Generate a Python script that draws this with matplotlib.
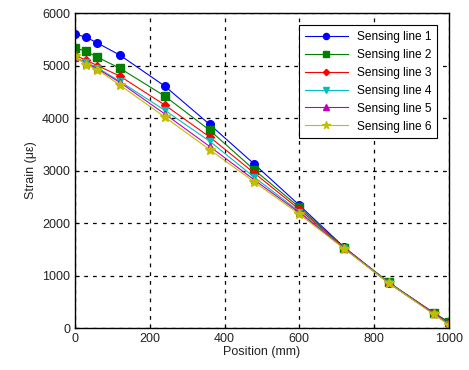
import matplotlib
matplotlib.use("Agg")
import matplotlib.pyplot as plt

plt.rcParams['font.family'] = ['Liberation Sans', 'DejaVu Sans']

position = [0, 30, 60, 120, 240, 360, 480, 600, 720, 840, 960, 1000]

line1 = [5600, 5540, 5430, 5200, 4610, 3880, 3120, 2340, 1540, 860, 290, 100]
line2 = [5340, 5270, 5160, 4950, 4420, 3770, 3010, 2300, 1530, 870, 280, 120]
line3 = [5200, 5100, 5000, 4800, 4250, 3640, 2950, 2260, 1530, 860, 280, 90]
line4 = [5160, 5060, 4960, 4700, 4150, 3560, 2870, 2220, 1520, 860, 270, 80]
line5 = [5150, 5040, 4940, 4680, 4080, 3460, 2820, 2200, 1520, 850, 270, 70]
line6 = [5180, 5020, 4920, 4630, 4020, 3400, 2780, 2170, 1510, 850, 260, 60]

series = [line1, line2, line3, line4, line5, line6]
labels = ['Sensing line 1', 'Sensing line 2', 'Sensing line 3',
          'Sensing line 4', 'Sensing line 5', 'Sensing line 6']
colors = ['#0000ff', '#008000', '#ff0000', '#00bfbf', '#bf00bf', '#bfbf00']
markers = ['o', 's', 'D', 'v', '^', '*']
msizes = [5.5, 5.5, 4, 5, 5, 7]

fig = plt.figure(figsize=(4.69, 3.70), dpi=100)
ax = fig.add_axes([0.16, 0.1135, 0.797, 0.851])

for ys, lab, c, m, ms in zip(series, labels, colors, markers, msizes):
    ax.plot(position, ys, color=c, marker=m, markersize=ms, linewidth=0.8,
            markeredgecolor=c, label=lab)

ax.set_xlim(0, 1000)
ax.set_ylim(0, 6000)
ax.set_xticks([0, 200, 400, 600, 800, 1000])
ax.set_yticks([0, 1000, 2000, 3000, 4000, 5000, 6000])
ax.grid(True, color='black', linestyle=(0, (3, 4)), linewidth=0.9)
ax.tick_params(direction='in', labelsize=9, length=3, labelcolor='#222222')
for sp in ax.spines.values():
    sp.set_linewidth(1.0)
ax.set_xlabel('Position (mm)', fontsize=9, labelpad=1, color='#222222')
ax.set_ylabel('Strain (\u03bc\u03b5)', fontsize=9, labelpad=4, color='#222222')

leg = ax.legend(loc='upper right', fontsize=8.6, fancybox=False, framealpha=1,
                edgecolor='black', handlelength=3.6, borderpad=0.45,
                labelspacing=0.5, markerscale=0.8,
                bbox_to_anchor=(0.985, 0.98))
leg.get_frame().set_linewidth(0.8)

fig.savefig('out.png', dpi=100, facecolor='white')
